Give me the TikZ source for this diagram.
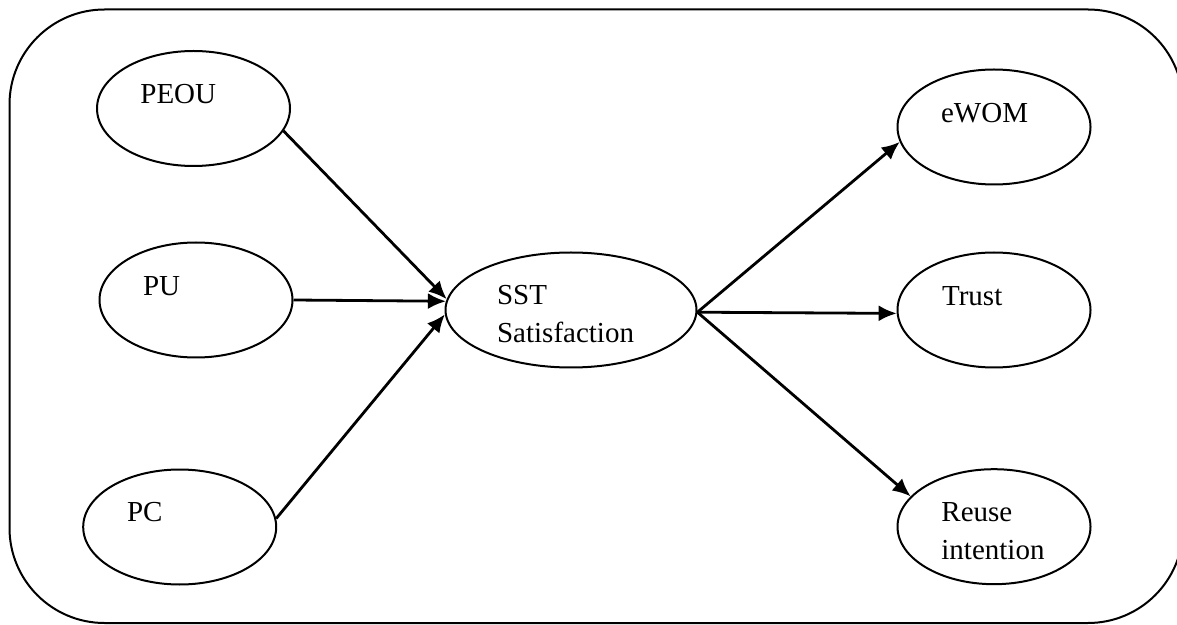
\documentclass[tikz,border=0pt]{standalone}
\usepackage{fontspec}
\setmainfont{Liberation Serif}
\usepackage{tikz}
\usetikzlibrary{shapes.geometric,arrows.meta}

\begin{document}
\begin{tikzpicture}[x=0.5pt, y=-0.5pt,
    construct/.style={draw, ellipse, line width=1pt, inner sep=0pt, minimum width=96.5pt, minimum height=57.5pt},
    lbl/.style={anchor=base west, inner sep=0pt, align=left, font=\fontsize{14.5pt}{18.9pt}\selectfont},
    path/.style={line width=1.4pt, -{Latex[length=9pt,width=8pt]}}]
    \useasboundingbox (0, 0) rectangle (1177, 625);
    \draw[line width=1pt, rounded corners=47.5pt] (9.5, 9.5) rectangle (1183, 623);

    % antecedents
    \node[construct] (peou) at (193.5, 108.5) {};
    \node[construct] (pu) at (196, 300) {};
    \node[construct] (pc) at (179.7, 527) {};
    \node[lbl] (peou-t) at (140, 104) {PEOU};
    \node[lbl] (pu-t) at (142.7, 296) {PU};
    \node[lbl] (pc-t) at (126.7, 521.7) {PC};

    % mediator
    \node[construct, minimum width=125.5pt] (sst) at (571, 310) {};
    \node[lbl] (sst-t) at (496.7, 342.7) {SST\\Satisfaction};

    % outcomes
    \node[construct] (ewom) at (994, 127) {};
    \node[construct] (trust) at (994, 310) {};
    \node[construct] (reuse) at (994, 526.7) {};
    \node[lbl] (ewom-t) at (940.7, 122.7) {eWOM};
    \node[lbl] (trust-t) at (941.7, 305.7) {Trust};
    \node[lbl] (reuse-t) at (941, 559.3) {Reuse\\intention};

    \draw[path] (peou.-14) -- (sst.175);
    \draw[path] (pu.0) -- (sst.176);
    \draw[path] (pc.5) -- (sst.182);
    \draw[path] (sst.-1) -- (ewom.189);
    \draw[path] (sst.-1) -- (trust.182);
    \draw[path] (sst.-1) -- (reuse.160);
\end{tikzpicture}
\end{document}
